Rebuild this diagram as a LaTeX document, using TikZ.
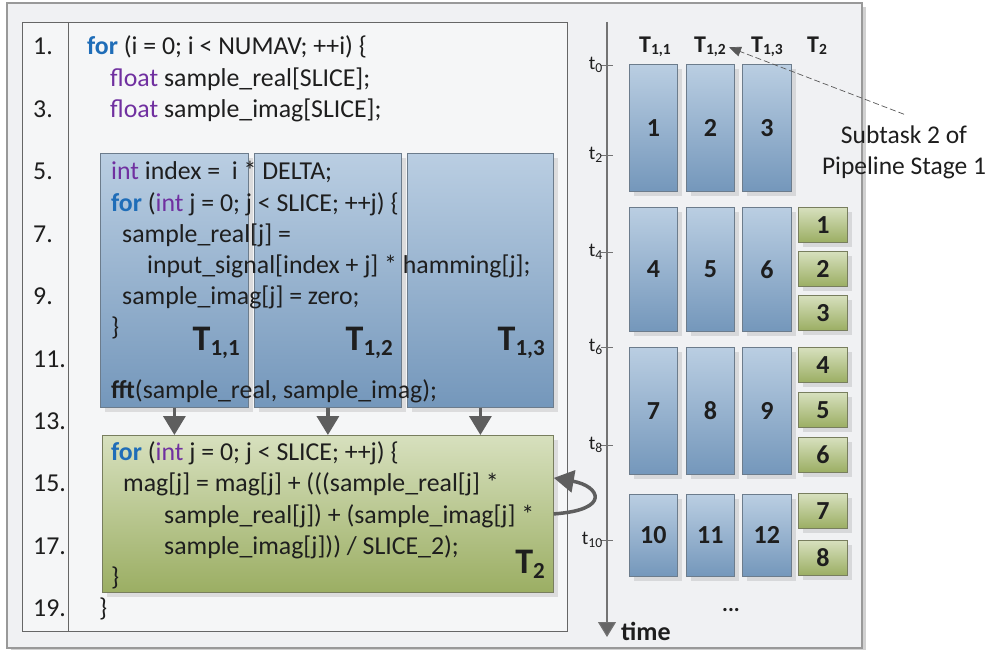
\documentclass[tikz,border=0pt]{standalone}
\usepackage{fontspec}
\setmainfont{Carlito}
\usetikzlibrary{arrows.meta,shadows}

\definecolor{txt}{HTML}{1E1E1E}
\definecolor{kwblue}{HTML}{1F6DB8}
\definecolor{typurple}{HTML}{7030A0}
\definecolor{outerbg}{HTML}{F0F1F3}
\definecolor{codebg}{HTML}{F5F6F7}
\definecolor{bluetop}{HTML}{BACEE2}
\definecolor{bluebot}{HTML}{7497BB}
\definecolor{blueedge}{HTML}{6C7C8C}
\definecolor{greentop}{HTML}{D7E0BE}
\definecolor{greenbot}{HTML}{9BAE63}
\definecolor{greenedge}{HTML}{787E5E}
\definecolor{arrowgray}{HTML}{5E5E5E}

\newcommand\codefont{\fontsize{25.8}{31}\selectfont}
\newcommand\ckw[1]{\textcolor{kwblue}{\textbf{#1}}}
\newcommand\cty[1]{\textcolor{typurple}{#1}}
% big task label: T with a lowered subscript
\newcommand\bigtask[1]{{\fontsize{36}{40}\selectfont\bfseries T\raisebox{-5pt}{\fontsize{23}{26}\selectfont #1}}}
\newcommand\headtask[1]{{\fontsize{24}{28}\selectfont\bfseries T\raisebox{-2pt}{\fontsize{15.5}{18}\selectfont #1}}}

\tikzset{
  code/.style={anchor=base west, inner sep=0pt, font=\codefont, text=txt},
  lineno/.style={anchor=base west, inner sep=0pt, font=\codefont, text=txt},
  boxshadow/.style={drop shadow={shadow xshift=5pt, shadow yshift=-5pt, fill=black, opacity=0.10}},
  bluebox/.style={draw=blueedge, line width=0.8pt, top color=bluetop, bottom color=bluebot,
    boxshadow, inner sep=0pt, anchor=north west, text=txt, font=\fontsize{26}{28}\selectfont\bfseries},
  greenbox/.style={draw=greenedge, line width=0.8pt, top color=greentop, bottom color=greenbot,
    boxshadow, inner sep=0pt, anchor=north west, text=txt, font=\fontsize{26}{28}\selectfont\bfseries},
  tasklabel/.style={anchor=base east, inner sep=0pt, text=txt},
  flow/.style={draw=arrowgray, line width=3.5pt, -{Triangle[length=19pt,width=22pt]}},
  selfloop/.style={draw=arrowgray, line width=3.5pt, -{Triangle[length=20pt,width=22pt]}},
  timeaxis/.style={draw=black!55, line width=1.1pt, -{Triangle[length=15pt,width=18pt,fill=black!60]}},
  tickmark/.style={draw=black!55, line width=0.9pt},
  ticklabel/.style={anchor=east, inner sep=0pt, text=txt, font=\fontsize{19.5}{22}\selectfont},
  note/.style={draw=black!65, line width=0.7pt, dash pattern=on 6pt off 3pt,
    -{Triangle[length=12pt,width=10pt,fill=black!65]}},
}

\begin{document}
\begin{tikzpicture}[x=1pt,y=-1pt]
\useasboundingbox (0,0) rectangle (990,650);
\fill[white] (0,0) rectangle (990,650);

% outer frame with a thin shadow
\fill[black!18] (11,7) rectangle (866,652);
\filldraw[fill=outerbg, draw=black!40, line width=1.2pt] (7,3) rectangle (862,648);

% code listing frame and line-number column
\filldraw[fill=codebg, draw=black!60, line width=1pt] (22,23) rectangle (567,631);
\draw[black!60, line width=1pt] (68,23) -- (68,631);

% pipeline stage 1 subtasks
\node[bluebox, minimum width=148pt, minimum height=254pt] (b11) at (100,153) {};
\node[bluebox, minimum width=147pt, minimum height=254pt] (b12) at (254,153) {};
\node[bluebox, minimum width=146pt, minimum height=254pt] (b13) at (407,153) {};
% pipeline stage 2
\node[greenbox, minimum width=451pt, minimum height=157pt] (t2) at (102,435) {};

\node[tasklabel] (lab11) at (240,350) {\bigtask{1,1}};
\node[tasklabel] (lab12) at (393,350) {\bigtask{1,2}};
\node[tasklabel] (lab13) at (545,350) {\bigtask{1,3}};
\node[tasklabel] (lab2)  at (545,573) {\bigtask{2}};

% line numbers
\foreach \n in {1,3,...,19}
  \node[lineno] (num\n) at (33,{55+(\n-1)*31.2}) {\n.};

% source code
\node[code] (c1)  at (87,55)    {\ckw{for} (i = 0; i < NUMAV; ++i) \{};
\node[code] (c2)  at (110,86.2) {\cty{float} sample\_real[SLICE];};
\node[code] (c3)  at (110,117.4){\cty{float} sample\_imag[SLICE];};
\node[code] (c5)  at (111,179.8){\cty{int} index = \ i * DELTA;};
\node[code] (c6)  at (111,211)  {\ckw{for} (\cty{int} j = 0; j < SLICE; ++j) \{};
\node[code] (c7)  at (122,242.2){sample\_real[j] =};
\node[code] (c8)  at (147,273.4){input\_signal[index + j] * hamming[j];};
\node[code] (c9)  at (122,304.6){sample\_imag[j] = zero;};
\node[code] (c10) at (111,335.8){\}};
\node[code] (c12) at (111,398.2){\textbf{fft}(sample\_real, sample\_imag);};
\node[code] (c14) at (111,460.6){\ckw{for} (\cty{int} j = 0; j < SLICE; ++j) \{};
\node[code] (c15) at (123,491.8){mag[j] = mag[j] + (((sample\_real[j] *};
\node[code] (c16) at (164,523)  {sample\_real[j]) + (sample\_imag[j] *};
\node[code] (c17) at (164,554.2){sample\_imag[j])) / SLICE\_2);};
\node[code] (c18) at (111,585.4){\}};
\node[code] (c19) at (99,616.6) {\}};

% data flow from stage 1 to stage 2
\draw[flow] (b11.south) -- (b11.south |- t2.north);
\draw[flow] (b12.south) -- (b12.south |- t2.north);
\draw[flow] (b13.south) -- (b13.south |- t2.north);
% stage 2 keeps its state between iterations
\draw[selfloop] (t2.east) .. controls +(58,-4) and +(46,8) .. ([yshift=36pt]t2.east);

% time axis
\coordinate (axtop) at (607,22);
\coordinate (axbot) at (607,637);
\draw[timeaxis] (axtop) -- (axbot);
\node[anchor=base west, inner sep=0pt, text=txt, font=\fontsize{26}{30}\selectfont\bfseries] (timelab) at (621,640) {time};
\foreach \y/\k in {65/0,155/2,252/4,347/6,445/8,540/10}{
  \draw[tickmark] (601,\y) -- (613,\y);
  \node[ticklabel] (tick\k) at (603,\y) {t\textsubscript{\k}};
}

% column headers
\node[anchor=base, inner sep=3pt, text=txt] (h11) at (655,53) {\headtask{1,1}};
\node[anchor=base, inner sep=3pt, text=txt] (h12) at (710,53) {\headtask{1,2}};
\node[anchor=base, inner sep=3pt, text=txt] (h13) at (767,53) {\headtask{1,3}};
\node[anchor=base, inner sep=3pt, text=txt] (h2)  at (817,53) {\headtask{2}};

% schedule of stage 1 subtasks
\foreach \r/\y/\h/\a/\b/\c in {1/64/127/1/2/3, 2/207/124/4/5/6, 3/347/127/7/8/9, 4/494/82/10/11/12}{
  \node[bluebox, minimum width=48pt, minimum height=\h pt] (s\r a) at (629,\y) {\a};
  \node[bluebox, minimum width=48pt, minimum height=\h pt] (s\r b) at (686,\y) {\b};
  \node[bluebox, minimum width=49pt, minimum height=\h pt] (s\r c) at (742,\y) {\c};
}
% schedule of stage 2
\foreach \y/\k in {207/1,251/2,295/3,347/4,392/5,437/6,493/7,540/8}
  \node[greenbox, minimum width=49pt, minimum height=35pt] (g\k) at (798,\y) {\k};

\node[inner sep=0pt, text=txt, font=\fontsize{22}{24}\selectfont\bfseries] (more) at (731,610) {...};

% annotation
\node[align=center, inner sep=0pt, text=txt, font=\fontsize{25.5}{31}\selectfont] (note) at (904,152)
  {Subtask 2 of\\Pipeline Stage 1};
\draw[note] ([yshift=11pt]note.north) -- (h12.east);
\end{tikzpicture}
\end{document}
